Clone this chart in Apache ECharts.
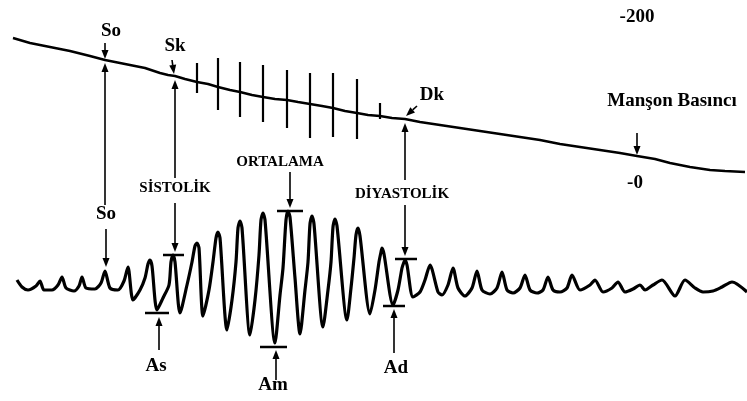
<!DOCTYPE html>
<html><head><meta charset="utf-8">
<script src="https://cdn.jsdelivr.net/npm/echarts@6/dist/echarts.min.js"></script>
<style>html,body{margin:0;padding:0;background:#fff}#c{width:747px;height:401px}</style>
</head><body><div id="c"></div>
<script>
// Cuff pressure trace (top line): [time, level]
const cuffTrace = [[13,38],[30,43],[50,47],[70,51],[90,56],[105,60],[120,63],[130,65],[145,68],[160,73],[168,75],[175,76],[185,79],[197,82],[208,84],[218,87],[230,90],[240,92],[252,95],[263,97],[275,99],[287,100],[298,102],[310,104],[322,106],[333,108],[345,111],[357,113],[368,115],[380,116],[392,118],[405,119],[420,122],[440,125],[460,128],[480,131],[500,134],[520,137],[540,140],[560,144],[580,147],[600,150],[620,153],[637,156],[655,159],[670,163],[690,167],[710,170],[725,171],[745,172]];
// Korotkoff spikes on the cuff trace
const spikeTime = [197,218,240,263,287,310,333,357,380];
const spikeTop = [63,58,62,65,70,73,73,79,103];
const spikeBottom = [93,110,117,122,128,138,137,139,119];
// Oscillation waveform
const oscTrace = [[17,280],[22,287],[28,290],[36,286],[40,281],[44,290],[52,290],[58,285],[62,277],[66,288],[74,291],[79,286],[82,277],[86,288],[95,289],[101,283],[105,271],[110,288],[118,290],[124,281],[128,267],[133,300],[140,290],[145,278],[148,264],[150,260],[152,266],[157,310],[163,298],[169,285],[171,262],[173,255],[175,262],[180,313],[187,285],[192,262],[195,246],[197,243],[199,248],[203,316],[209,290],[213,262],[216,238],[218,232],[220,238],[227,330],[232,300],[236,262],[238,228],[240,221],[242,228],[250,335],[255,300],[259,255],[261,220],[263,213],[265,220],[275,343],[280,295],[283,268],[286,220],[288,211],[290,217],[295,278],[300,334],[305,290],[308,262],[310,224],[312,216],[314,224],[323,327],[328,290],[331,262],[333,227],[335,219],[337,226],[347,320],[351,288],[354,258],[356,235],[358,228],[360,236],[370,314],[375,290],[379,262],[381,252],[382,248],[384,254],[393,305],[398,290],[402,268],[404,262],[405,260],[407,265],[413,297],[420,292],[425,280],[430,265],[438,292],[442,295],[448,285],[453,268],[458,288],[465,296],[472,288],[477,271],[482,290],[490,294],[497,288],[502,272],[507,290],[513,293],[520,288],[525,275],[530,290],[537,293],[543,290],[548,277],[553,290],[560,292],[567,288],[572,275],[580,290],[590,285],[595,280],[603,292],[612,288],[618,282],[625,292],[633,289],[640,285],[645,290],[653,285],[662,280],[675,296],[685,280],[695,288],[703,292],[713,291],[722,287],[732,282],[747,292]];
// Annotation arrows: [fromTime, fromLevel, toTime, toLevel] (head at "to")
const arrows = [[105,43,105,59],[105,205,105,63],[106,229,106,267],[172,60,174,74],[175,178,175,80],[175,203,175,252],[159,350,159,317],[290,172,290,208],[276,380,276,350],[405,205,405,256],[405,180,405,123],[417,106,406,116],[394,353,394,309],[637,133,637,155]];
// Marker bars: [fromTime, toTime, level]
const bars = [[145,169,313],[163,184,255],[277,303,211],[260,287,347],[395,417,259],[383,405,306]];
// Labels
const bigText = ['So','Sk','-200','Dk','Manşon Basıncı','-0','So','As','Am','Ad'];
const bigTime = [111,175,637,432,672,635,106,156,273,396];
const bigLevel = [31,46,17,95,101,183,214,366,385,368];
const smallText = ['ORTALAMA','SİSTOLİK','DİYASTOLİK'];
const smallTime = [280,175,402];
const smallLevel = [162,188,194];

const chart = echarts.init(document.getElementById('c'));
function textSeries(texts, xs, ys, size){
  return {type:'custom', clip:false, data: xs.map((x,i)=>[x, ys[i]]),
    renderItem:(p,api)=>{const c=api.coord([api.value(0),api.value(1)]);
      return {type:'text', x:c[0], y:c[1], style:{text:texts[p.dataIndex], fill:'#000', fontSize:size, fontWeight:'bold', fontFamily:'Liberation Serif', align:'center', verticalAlign:'middle'}};}};
}
chart.setOption({
  animation:false,
  grid:{left:0,right:0,top:0,bottom:0},
  xAxis:{type:'value',min:0,max:747,show:false},
  yAxis:{type:'value',min:0,max:401,inverse:true,show:false},
  series:[
    {type:'line',data:cuffTrace,showSymbol:false,lineStyle:{color:'#000',width:2.5}},
    {type:'line',data:oscTrace,showSymbol:false,smooth:0.25,lineStyle:{color:'#000',width:3.2}},
    {type:'custom',clip:false,data:spikeTime.map((t,i)=>[t,spikeTop[i],spikeBottom[i]]),
      renderItem:(p,api)=>{const a=api.coord([api.value(0),api.value(1)]),b=api.coord([api.value(0),api.value(2)]);
        return {type:'line',shape:{x1:a[0],y1:a[1],x2:b[0],y2:b[1]},style:{stroke:'#000',lineWidth:2.2}};}},
    {type:'custom',clip:false,data:bars,encode:{x:[0,1],y:2},
      renderItem:(p,api)=>{const a=api.coord([api.value(0),api.value(2)]),b=api.coord([api.value(1),api.value(2)]);
        return {type:'line',shape:{x1:a[0],y1:a[1],x2:b[0],y2:b[1]},style:{stroke:'#000',lineWidth:2.5}};}},
    {type:'custom',clip:false,data:arrows,encode:{x:[0,2],y:[1,3]},
      renderItem:(p,api)=>{
        const a=api.coord([api.value(0),api.value(1)]),b=api.coord([api.value(2),api.value(3)]);
        const dx=b[0]-a[0],dy=b[1]-a[1],L=Math.hypot(dx,dy),ux=dx/L,uy=dy/L,hl=9,hw=3.5;
        const base=[b[0]-ux*hl,b[1]-uy*hl];
        return {type:'group',children:[
          {type:'line',shape:{x1:a[0],y1:a[1],x2:base[0],y2:base[1]},style:{stroke:'#000',lineWidth:1.6}},
          {type:'polygon',shape:{points:[b,[base[0]-uy*hw,base[1]+ux*hw],[base[0]+uy*hw,base[1]-ux*hw]]},style:{fill:'#000'}}]};}},
    textSeries(bigText,bigTime,bigLevel,19),
    textSeries(smallText,smallTime,smallLevel,15)
  ]
});
</script></body></html>
